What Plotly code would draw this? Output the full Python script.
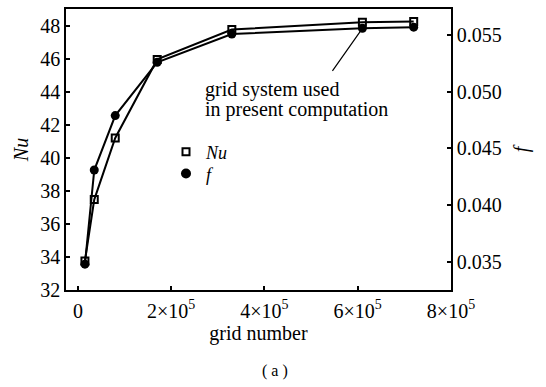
import plotly.graph_objects as go

grid = [15000, 35000, 80000, 170000, 330000, 610000, 720000]
nu = [33.76, 37.47, 41.2, 45.95, 47.76, 48.2, 48.25]
f = [0.0348, 0.0431, 0.0479, 0.0526, 0.0551, 0.0556, 0.0557]

x_tickvals = [0, 200000, 400000, 600000, 800000]
x_ticktext = ["0", "2×10<sup>5</sup>", "4×10<sup>5</sup>", "6×10<sup>5</sup>", "8×10<sup>5</sup>"]
nu_ticks = [32, 34, 36, 38, 40, 42, 44, 46, 48]
f_ticks = [0.035, 0.040, 0.045, 0.050, 0.055]

FONT = "Times New Roman, Liberation Serif, Times, serif"
fig = go.Figure()
fig.add_trace(go.Scatter(x=grid, y=nu, mode="lines+markers", showlegend=False,
                         line=dict(color="black", width=2),
                         marker=dict(symbol="square-open", size=7, color="black", line=dict(width=2))))
fig.add_trace(go.Scatter(x=grid, y=f, mode="lines+markers", showlegend=False, yaxis="y2",
                         line=dict(color="black", width=2),
                         marker=dict(symbol="circle", size=9, color="black")))
fig.add_trace(go.Scatter(x=[None], y=[None], mode="markers", name="<i>Nu</i>", legend="legend",
                         marker=dict(symbol="square-open", size=7, color="black", line=dict(width=2))))
fig.add_trace(go.Scatter(x=[None], y=[None], mode="markers", name="<i>f</i>", legend="legend2",
                         marker=dict(symbol="circle", size=10, color="black")))

axis_common = dict(showline=True, linecolor="black", linewidth=1.5, ticks="inside", ticklen=4,
                   tickcolor="black", tickwidth=1.5, showgrid=False, zeroline=False,
                   tickfont=dict(family=FONT, size=20, color="black"))
pw, ph = 546 - 66 - 95, 387 - 7 - 97


def px_x(v):
    return (v - 66) / pw


def px_y(v):
    return 1 - (v - 7) / ph


leg_common = dict(xanchor="left", yanchor="middle", bgcolor="rgba(0,0,0,0)",
                  font=dict(family=FONT, size=18), itemwidth=30)
fig.update_layout(
    width=546, height=387, margin=dict(l=66, r=95, t=7, b=97),
    paper_bgcolor="white", plot_bgcolor="white",
    font=dict(family=FONT, size=20, color="black"),
    xaxis=dict(range=[-25600, 800000], tickvals=x_tickvals, ticktext=x_ticktext, mirror=True,
               ticklabelstandoff=2,
               title=dict(text="grid number", font=dict(family=FONT, size=20), standoff=0), **axis_common),
    yaxis=dict(range=[32, 49], tickvals=nu_ticks,
               title=dict(text="<i>Nu</i>", font=dict(family=FONT, size=20), standoff=6), **axis_common),
    yaxis2=dict(range=[0.03252, 0.0573], tickvals=f_ticks, tickformat=".3f", overlaying="y", side="right",
                title=dict(text="<i>f</i>", font=dict(family=FONT, size=20), standoff=13), **axis_common),
    legend=dict(x=px_x(166), y=px_y(151), **leg_common),
    legend2=dict(x=px_x(166), y=px_y(173), **leg_common),
    annotations=[
        dict(x=610000, y=0.0556, xref="x", yref="y2", ax=-31, ay=44, text="", showarrow=True,
             arrowhead=0, arrowwidth=1.2, arrowcolor="black"),
        dict(x=px_x(203), y=px_y(88), xref="paper", yref="paper", text="grid system used", showarrow=False,
             xanchor="left", yanchor="middle", font=dict(family=FONT, size=20)),
        dict(x=px_x(203), y=px_y(108), xref="paper", yref="paper", text="in present computation",
             showarrow=False, xanchor="left", yanchor="middle", font=dict(family=FONT, size=20)),
        dict(x=px_x(275), y=px_y(372), xref="paper", yref="paper", text="( a )", showarrow=False,
             xanchor="center", yanchor="middle", font=dict(family=FONT, size=16)),
    ],
)
fig.write_html("out.html")
